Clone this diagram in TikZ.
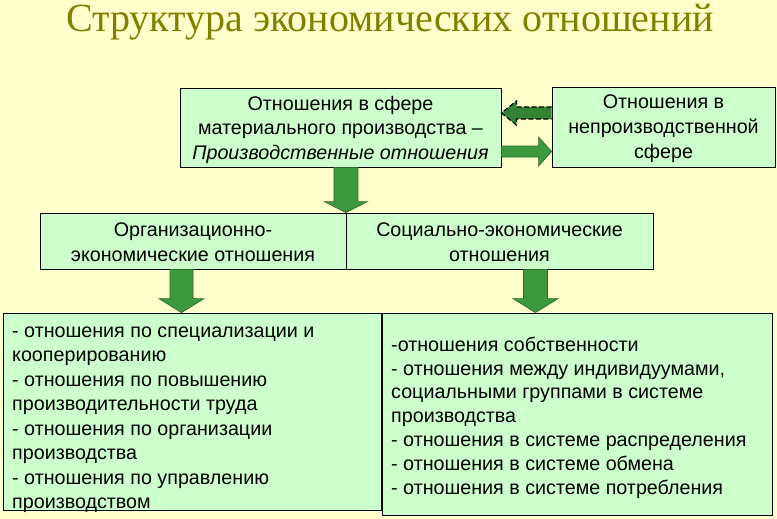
\documentclass[tikz,border=0pt]{standalone}
\usepackage{fontspec}
\setmainfont{Liberation Sans}
\newfontfamily\titlefont{Liberation Serif}
\usetikzlibrary{calc}
\definecolor{bgcol}{HTML}{FFFFCC}
\definecolor{boxfill}{HTML}{CCFFCC}
\definecolor{titlecol}{HTML}{808000}
\definecolor{arrowfill}{HTML}{3C9A3C}
\definecolor{arrowline}{HTML}{2A6A2A}
\begin{document}
\begin{tikzpicture}[x=1pt,y=-1pt,
  box/.style={draw=black, line width=0.8pt, fill=boxfill, inner sep=0pt, rectangle},
  txt/.style={text=black, inner sep=0pt},
  blockarrow/.style={fill=arrowfill, draw=arrowline, line width=0.7pt, line join=miter}]
\fill[bgcol] (0,0) rectangle (777,519);
\useasboundingbox (0,0) rectangle (777,519);

\node[anchor=base, text=titlecol, inner sep=0pt, font=\titlefont\fontsize{40}{40}\selectfont] (title) at (390,32) {Структура экономических отношений};

\node[box, minimum width=321pt, minimum height=79pt] (A) at (340.5,127.5) {};
\node[txt, align=center, font=\fontsize{19.7}{24.5}\selectfont] (At) at (340.5,129.5)
  {Отношения в сфере\\материального производства –\\\textit{Производственные отношения}};
\node[box, minimum width=223pt, minimum height=80pt] (B) at (663.5,127) {};
\node[txt, align=center, font=\fontsize{19.7}{25}\selectfont] (Bt) at (663.5,128.5)
  {Отношения в\\непроизводственной\\сфере};
\node[box, minimum width=306pt, minimum height=56pt] (C1) at (193,241) {};
\node[txt, align=center, font=\fontsize{19.7}{25}\selectfont] (C1t) at (193,242.5)
  {Организационно-\\экономические отношения};
\node[box, minimum width=307pt, minimum height=56pt] (C2) at (499.5,241) {};
\node[txt, align=center, font=\fontsize{19.7}{25}\selectfont] (C2t) at (499.5,242.5)
  {Социально-экономические\\отношения};
\node[box, minimum width=378pt, minimum height=197pt] (D1) at (192,411.5) {};
\node[box, minimum width=390pt, minimum height=202pt] (D2) at (577,414) {};
\node[txt, anchor=west, align=left, font=\fontsize{19.7}{24.5}\selectfont] (D1t) at (12,419.5)
  {- отношения по специализации и\\кооперированию\\- отношения по повышению\\производительности труда\\- отношения по организации\\производства\\- отношения по управлению\\производством};
\node[txt, anchor=west, align=left, font=\fontsize{19.7}{23.8}\selectfont] (D2t) at (391,417.5)
  {-отношения собственности\\- отношения между индивидуумами,\\социальными группами в системе\\производства\\- отношения в системе распределения\\- отношения в системе обмена\\- отношения в системе потребления};

% down arrows
\path[blockarrow] let \p1=($(C1.north east|-A.south)+(-0.5,0)$), \p2=($(C1.north east)+(-0.5,0)$) in
  (\x1-12pt,\y1) -- (\x1+12pt,\y1) -- (\x1+12pt,\y2+11pt) -- (\x1+21.5pt,\y2+11pt) -- (\x1,\y2)
  -- (\x1-21.5pt,\y2+11pt) -- (\x1-12pt,\y2+11pt) -- cycle;
\path[blockarrow] let \p1=($(C1.south)+(-11.5,0)$), \p2=($(C1.south|-D1.north)+(-11.5,0)$) in
  (\x1-11.5pt,\y1) -- (\x1+11.5pt,\y1) -- (\x1+11.5pt,\y2+14pt) -- (\x1+22.5pt,\y2+14pt) -- (\x1,\y2)
  -- (\x1-22.5pt,\y2+14pt) -- (\x1-11.5pt,\y2+14pt) -- cycle;
\path[blockarrow] let \p1=($(C2.south)+(36,0)$), \p2=($(C2.south|-D2.north)+(36,0)$) in
  (\x1-12pt,\y1) -- (\x1+12pt,\y1) -- (\x1+12pt,\y2+14pt) -- (\x1+22.5pt,\y2+14pt) -- (\x1,\y2)
  -- (\x1-22.5pt,\y2+14pt) -- (\x1-12pt,\y2+14pt) -- cycle;

% right arrow A -> B
\path[blockarrow] let \p1=($(A.east)+(0,24)$), \p2=($(B.west|-A.east)+(0,24)$) in
  (\x1,\y1+5.5pt) -- (\x2-13pt,\y1+5.5pt) -- (\x2-13pt,\y1+14.5pt) -- (\x2,\y1)
  -- (\x2-13pt,\y1-14.5pt) -- (\x2-13pt,\y1-5.5pt) -- (\x1,\y1-5.5pt) -- cycle;
% dashed left arrow B -> A
\fill[arrowfill!85!black] let \p1=($(B.west)+(0,-14)$), \p2=($(A.east|-B.west)+(0,-14)$) in
  (\x1,\y1+6pt) -- (\x2+15pt,\y1+6pt) -- (\x2+15pt,\y1+12pt) -- (\x2,\y1)
  -- (\x2+15pt,\y1-12pt) -- (\x2+15pt,\y1-6pt) -- (\x1,\y1-6pt) -- cycle;
\draw[black, line width=1.2pt, dash pattern=on 5pt off 2.5pt] let \p1=($(B.west)+(0,-14)$), \p2=($(A.east|-B.west)+(0,-14)$) in
  (\x1,\y1+6pt) -- (\x2+15pt,\y1+6pt) -- (\x2+15pt,\y1+12pt) -- (\x2,\y1)
  -- (\x2+15pt,\y1-12pt) -- (\x2+15pt,\y1-6pt) -- (\x1,\y1-6pt);
\end{tikzpicture}
\end{document}
